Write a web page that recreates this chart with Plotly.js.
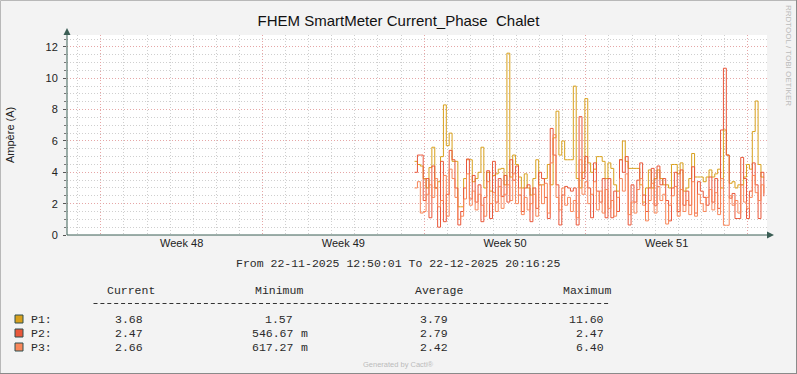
<!DOCTYPE html>
<html><head><meta charset="utf-8">
<script src="https://cdn.plot.ly/plotly-3.0.1.min.js"></script>
<style>html,body{margin:0;padding:0;background:#F3F3F3;} #chart{width:797px;height:374px;}</style>
</head><body><div id="chart"></div>
<script>
const seriesNames = ['P1:','P2:','P3:'];
const seriesColors = ['#D8A01C','#E9573A','#F8875A'];
const p1 = [4.7,4.5,4.4,3.6,3.0,4.3,5.6,3.0,3.4,5.0,8.3,5.7,6.5,4.7,4.7,1.8,1.8,3.6,4.8,4.8,
  3.4,3.6,4.0,5.6,3.0,4.0,2.8,3.8,3.9,4.2,4.25,3.2,11.6,3.7,5.1,4.5,3.7,3.0,3.9,3.0,
  2.55,3.6,4.8,3.2,3.2,3.6,4.5,3.2,6.2,7.9,5.1,6.0,4.8,4.8,4.8,9.5,3.6,3.0,4.0,8.7,
  4.6,4.0,4.2,5.0,5.0,4.7,3.6,4.6,4.25,3.2,2.8,4.8,6.0,4.7,4.25,4.25,4.25,4.25,3.2,2.1,
  3.0,4.15,3.0,3.6,4.15,3.6,3.2,3.2,3.0,4.5,4.5,3.9,4.6,2.8,3.0,3.6,5.2,3.7,3.7,3.7,
  3.4,3.7,4.15,3.7,3.9,4.2,3.0,6.7,5.1,3.3,3.4,3.0,3.2,3.2,3.7,4.5,4.2,6.6,8.55,4.5,
  3.7,3.68];
const p2 = [4.0,5.1,5.1,2.2,3.6,1.1,4.4,3.0,0.5,4.7,0.85,2.6,5.4,4.8,3.0,0.64,1.5,3.0,4.85,2.3,
  3.8,2.1,3.2,0.85,2.4,4.1,1.05,4.7,2.1,3.6,2.45,3.8,2.1,4.8,3.5,4.4,2.55,1.5,3.0,3.2,
  0.85,3.0,1.7,4.0,3.6,2.4,1.05,6.8,5.1,3.2,0.64,2.55,3.1,3.0,2.8,3.0,0.64,7.55,3.6,5.0,
  3.0,1.1,4.6,2.8,2.1,3.6,1.1,3.6,1.1,2.8,1.5,4.8,4.0,5.0,0.64,3.2,2.1,3.5,4.6,2.55,
  1.5,3.0,4.25,1.9,4.4,3.2,3.6,2.2,0.9,3.0,4.0,1.5,4.15,1.9,2.8,1.9,4.35,1.4,3.4,2.8,
  2.4,1.9,3.7,2.1,3.6,1.7,6.7,10.64,5.1,2.35,2.65,1.05,1.05,4.95,3.6,1.05,2.8,4.6,3.2,1.05,
  4.0,2.47];
const p3 = [3.0,3.4,1.4,1.5,2.6,3.2,2.4,3.6,1.8,2.2,3.8,1.2,4.2,3.6,2.4,1.0,1.2,2.3,3.9,1.9,
  2.8,1.6,2.6,1.9,1.2,3.4,2.0,2.7,1.5,3.1,1.7,2.6,3.2,2.2,3.9,2.0,3.0,1.3,2.4,1.6,
  2.0,2.6,1.2,3.2,2.0,3.3,1.4,4.6,6.4,2.4,1.6,3.0,1.9,2.4,1.5,2.2,1.1,4.8,2.6,3.4,
  2.0,2.6,3.4,1.6,2.8,1.4,2.9,1.7,2.2,1.2,2.4,3.6,2.8,3.9,1.3,2.1,1.4,2.9,3.6,1.9,
  0.9,2.2,3.3,1.4,3.1,2.2,2.6,0.7,1.9,2.5,3.1,1.2,2.9,1.5,2.2,1.3,3.4,1.2,2.6,2.0,
  1.5,2.4,2.9,1.6,2.7,1.3,3.6,0.62,0.62,2.5,1.9,2.2,1.4,3.2,2.1,1.7,2.4,3.8,2.7,2.2,
  3.2,2.66];
const startTime = Date.UTC(2025,11,7,14,0,0);
const stepHours = 3;
const rangeStart = '2025-11-22 12:50:01';
const rangeEnd = '2025-12-22 20:16:25';
const titleText = 'FHEM SmartMeter Current_Phase  Chalet';
const yTitle = 'Ampère (A)';
const periodText = 'From 22-11-2025 12:50:01 To 22-12-2025 20:16:25';
const statHeaders = ['Current','Minimum','Average','Maximum'];
const curVals = ['3.68','2.47','2.66'];
const minNums = ['1.57','546.67','617.27'];
const minUnits = ['','m','m'];
const avgVals = ['3.79','2.79','2.42'];
const maxVals = ['11.60','2.47','6.40'];

function pad(n){return String(n).padStart(2,'0');}
function fmt(ms){const d=new Date(ms);return d.getUTCFullYear()+'-'+pad(d.getUTCMonth()+1)+'-'+pad(d.getUTCDate())+' '+pad(d.getUTCHours())+':'+pad(d.getUTCMinutes())+':00';}
const xs = p1.map((_,i)=>fmt(startTime + i*stepHours*3600000));

// pixel -> paper helpers (plot area: x 67..767, y 235..35)
const PL=67, PW=700, PB=235, PH=200;
const xp = px => (px-PL)/PW;
const yp = py => (PB-py)/PH;

const traces = [p1,p2,p3].map((v,k)=>({
  x: xs, y: v, type:'scatter', mode:'lines', name: seriesNames[k],
  line:{color: seriesColors[k], width:1, shape:'hv'}, hoverinfo:'skip'
}));

const mono = 'Liberation Mono, Courier New, monospace';
const ann = [];
const addT = (text, px, py, anchor, opts={}) => ann.push(Object.assign({
  text, xref:'paper', yref:'paper', x: xp(px), y: yp(py), xanchor: anchor, yanchor:'middle',
  showarrow:false, font:{family:mono, size:11.5, color:'#2A2A2A'}, borderpad:0
}, opts));

addT(yTitle, 10, 135, 'center', {textangle:-90, font:{family:'Liberation Sans, Arial, sans-serif', size:11, color:'#222'}});
addT(periodText, 398, 263, 'center');
const headerCenters = [131, 278.5, 439, 586.5];
statHeaders.forEach((h,i)=>addT(h, headerCenters[i], 290.5, 'center'));
const rowY = [319, 333, 347];
seriesNames.forEach((n,r)=>{
  addT(n, 30, rowY[r], 'left');
  addT(curVals[r], 143.5, rowY[r], 'right');
  addT(minNums[r], 293.5, rowY[r], 'right');
  if (minUnits[r]) addT(minUnits[r], 300, rowY[r], 'left');
  addT(avgVals[r], 449.5, rowY[r], 'right');
  addT(maxVals[r], 604.5, rowY[r], 'right');
});
addT('Generated by Cacti®', 398.5, 364, 'center', {font:{family:'Liberation Sans, Arial, sans-serif', size:7.5, color:'#BBBBBB'}});
addT('RRDTOOL / TOBI OETIKER', 789, 55, 'center', {textangle:90, font:{family:'Liberation Sans, Arial, sans-serif', size:8, color:'#BBBBBB'}});

const axisCol = '#3B5E55';
const shapes = [
  {type:'rect', xref:'paper', yref:'paper', x0:xp(0.5), x1:xp(796.5), y0:yp(373.5), y1:yp(0.5), line:{color:'#B8B8B8', width:1}},
  {type:'line', xref:'paper', yref:'paper', x0:xp(0), x1:xp(797), y0:yp(373.5), y1:yp(373.5), line:{color:'#8A8A8A', width:1}},
  {type:'line', xref:'paper', yref:'paper', x0:xp(796.5), x1:xp(796.5), y0:yp(374), y1:yp(0), line:{color:'#8A8A8A', width:1}},
  // separator under the legend header (dashes)
  {type:'line', xref:'paper', yref:'paper', x0:xp(93.5), x1:xp(611), y0:yp(303.5), y1:yp(303.5), line:{color:'#333', width:1, dash:'4px,2.9px'}},
  {type:'line', xref:'paper', yref:'paper', x0:xp(67), x1:xp(770), y0:yp(235), y1:yp(235), line:{color:axisCol, width:1}},
  {type:'line', xref:'paper', yref:'paper', x0:xp(67), x1:xp(67), y0:yp(235), y1:yp(31), line:{color:axisCol, width:1}},
  {type:'path', xref:'paper', yref:'paper', path:`M ${xp(767)} ${yp(231.5)} L ${xp(774)} ${yp(235)} L ${xp(767)} ${yp(238.5)} Z`, fillcolor:axisCol, line:{width:0}},
  {type:'path', xref:'paper', yref:'paper', path:`M ${xp(63.5)} ${yp(35)} L ${xp(67)} ${yp(28)} L ${xp(70.5)} ${yp(35)} Z`, fillcolor:axisCol, line:{width:0}}
];
seriesColors.forEach((c,r)=>shapes.push({type:'rect', xref:'paper', yref:'paper',
  x0:xp(15), x1:xp(23), y0:yp(rowY[r]+4), y1:yp(rowY[r]-4), fillcolor:c, line:{color:'#2F4F4F', width:1}}));

const layout = {
  width:797, height:374,
  margin:{l:PL, r:797-PL-PW, t:PB-PH, b:374-PB},
  paper_bgcolor:'#F3F3F3', plot_bgcolor:'#FFFFFF',
  showlegend:false,
  title:{text:titleText, xref:'container', x:0.5, xanchor:'center', yref:'container', y:1-21/374, yanchor:'middle',
    font:{family:'Liberation Sans, Arial, sans-serif', size:15, color:'#111'}},
  xaxis:{type:'date', range:[rangeStart, rangeEnd], tick0:'2025-11-24', dtick:604800000,
    tickformat:'Week %V', ticklabelmode:'period', showgrid:true, gridcolor:'#E6A6A6', griddash:'1px,2px', gridwidth:1,
    zeroline:false, showline:false, ticks:'', tickfont:{family:'Liberation Sans, Arial, sans-serif', size:11, color:'#222'},
    minor:{tick0:'2025-11-24', dtick:86400000, showgrid:true, gridcolor:'#CFCFCF', griddash:'1px,2px', gridwidth:1},
    fixedrange:true},
  yaxis:{range:[0,12.76], dtick:2, tick0:0, showgrid:true, gridcolor:'#E6A6A6', griddash:'1px,2px', gridwidth:1,
    zeroline:false, showline:false, ticks:'outside', ticklen:3, tickcolor:'#555', ticklabelstandoff:3,
    tickfont:{family:'Liberation Sans, Arial, sans-serif', size:11, color:'#222'},
    minor:{dtick:0.5, showgrid:true, gridcolor:'#CFCFCF', griddash:'1px,2px', gridwidth:1, ticks:'outside', ticklen:2, tickcolor:'#777'},
    fixedrange:true},
  annotations: ann,
  shapes: shapes
};
Plotly.newPlot('chart', traces, layout, {staticPlot:true, displayModeBar:false});
</script></body></html>
